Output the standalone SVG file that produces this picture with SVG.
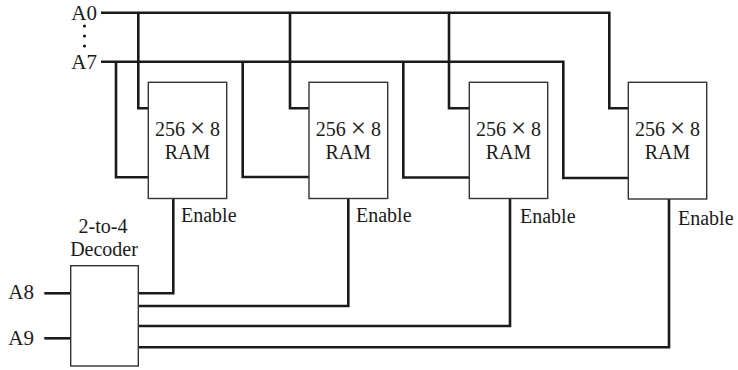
<svg xmlns="http://www.w3.org/2000/svg" width="738" height="370" viewBox="0 0 738 370">
<style>
.w{fill:none;stroke:#1a1a1a;stroke-width:2.6;stroke-linejoin:miter;stroke-linecap:butt}
.b{fill:#fff;stroke:#333;stroke-width:1.4}
text{font-family:"Liberation Serif","Times New Roman",serif;font-size:20px;fill:#1a1a1a}
.m{text-anchor:middle}
.e{text-anchor:end}
.a{font-size:21px}
.x{font-size:27px}
</style>
<g id="connectors">
<path class="w" d="M101 12.7H609.3V108.3H628.3"/>
<path class="w" d="M101 61.7H563.3V178H628.3"/>
<path class="w" d="M138.3 12.7V108.3H148.3"/>
<path class="w" d="M290 12.7V108.3H309"/>
<path class="w" d="M449 12.7V108.3H469.3"/>
<path class="w" d="M116 61.7V177.3H148.3"/>
<path class="w" d="M242.7 61.7V177H309"/>
<path class="w" d="M403.3 61.7V177.5H469.3"/>
<path class="w" d="M44.3 293.3H70.7"/>
<path class="w" d="M44.3 338.3H70.7"/>
<path class="w" d="M138.3 293.3H173.3V198.5"/>
<path class="w" d="M138.3 306H348.3V198.5"/>
<path class="w" d="M138.3 326H510V198.5"/>
<path class="w" d="M138.3 347.3H669V198.5"/>
</g>
<g id="labels">
<text class="e a" x="97" y="20">A0</text>
<circle cx="84.5" cy="26" r="1.6" fill="#1a1a1a"/>
<circle cx="84.5" cy="36" r="1.6" fill="#1a1a1a"/>
<circle cx="84.5" cy="46" r="1.6" fill="#1a1a1a"/>
<text class="e a" x="97" y="69">A7</text>
<text class="e a" x="34" y="299">A8</text>
<text class="e a" x="34" y="345">A9</text>
</g>
<g id="ram1">
<rect class="b" x="148.3" y="82.3" width="78.4" height="116.2"/>
<text class="m" x="187.5" y="136">256 <tspan class="x" dy="1">×</tspan><tspan dy="-1"> 8</tspan></text>
<text class="m" x="187.5" y="159">RAM</text>
<text x="181" y="222">Enable</text>
</g>
<g id="ram2">
<rect class="b" x="309" y="82.3" width="78.7" height="116.2"/>
<text class="m" x="348.3" y="136">256 <tspan class="x" dy="1">×</tspan><tspan dy="-1"> 8</tspan></text>
<text class="m" x="348.3" y="159">RAM</text>
<text x="356" y="222">Enable</text>
</g>
<g id="ram3">
<rect class="b" x="469.3" y="82.3" width="78.4" height="116.2"/>
<text class="m" x="508.5" y="136">256 <tspan class="x" dy="1">×</tspan><tspan dy="-1"> 8</tspan></text>
<text class="m" x="508.5" y="159">RAM</text>
<text x="520" y="223">Enable</text>
</g>
<g id="ram4">
<rect class="b" x="628.3" y="82.3" width="78.4" height="116.7"/>
<text class="m" x="667.5" y="136">256 <tspan class="x" dy="1">×</tspan><tspan dy="-1"> 8</tspan></text>
<text class="m" x="667.5" y="159">RAM</text>
<text x="678" y="225">Enable</text>
</g>
<g id="decoder">
<rect class="b" x="70.7" y="265.7" width="67.6" height="100.3"/>
<text class="m" x="103" y="233">2-to-4</text>
<text class="m" x="104" y="256">Decoder</text>
</g>
</svg>
